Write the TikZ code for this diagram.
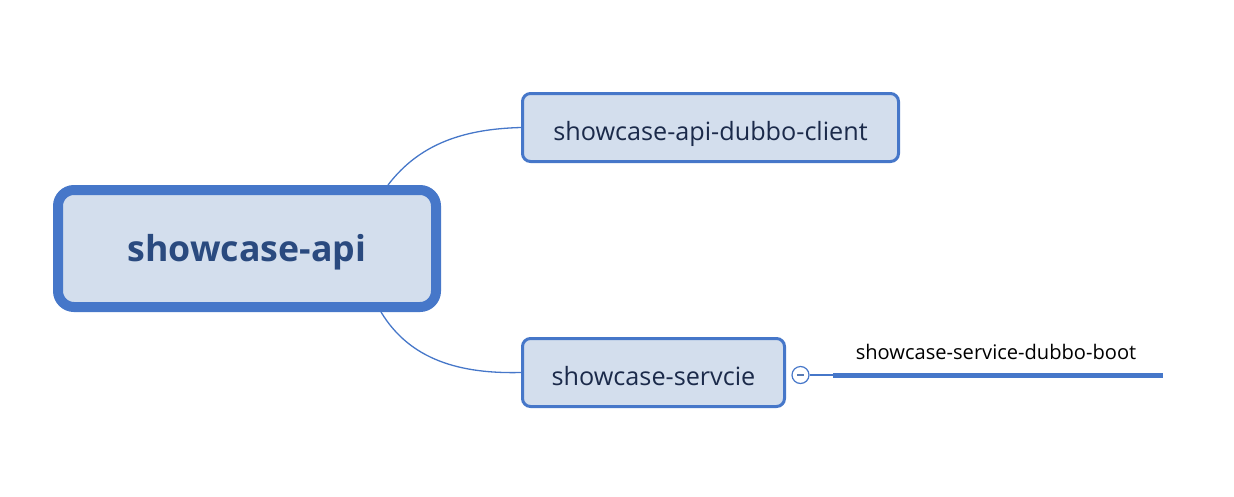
\documentclass[tikz,border=0pt]{standalone}
\usepackage{fontspec}
\setmainfont{Open Sans}
\definecolor{edge}{HTML}{4677C9}
\definecolor{boxfill}{HTML}{D3DEED}
\definecolor{maintext}{HTML}{2A4A7F}
\definecolor{childtext}{HTML}{1B2A4A}
\tikzset{
  mainbox/.style={draw=edge, fill=boxfill, line width=10pt, rounded corners=16pt, inner sep=0pt,
    minimum width=378pt, minimum height=117pt, text=maintext, text height=30pt, text depth=3.6pt,
    font=\fontsize{35.7}{42}\selectfont\bfseries},
  childbox/.style={draw=edge, fill=boxfill, line width=3pt, rounded corners=8pt, inner sep=0pt,
    minimum height=68pt, text=childtext, text height=27pt, text depth=2pt,
    font=\fontsize{25.2}{30}\selectfont},
  conn/.style={draw=edge, line width=1.3pt},
}
\begin{document}
\begin{tikzpicture}[x=1pt,y=-1pt]
\useasboundingbox (0,0) rectangle (1234,496);
\node[mainbox] (main) at (247,248.5) {showcase-api};
\node[childbox, minimum width=376pt] (c1) at (710.5,127.5) {showcase-api-dubbo-client};
\node[childbox, minimum width=262pt] (c2) at (653.5,372.5) {showcase-servcie};
\coordinate (m1) at (388,185);
\coordinate (m2) at (381,312);
\draw[conn] (m1) .. controls (420,143) and (465,129) .. (c1.west);
\draw[conn] (m2) .. controls (410,360) and (460,374) .. (c2.west);
\node[draw=edge, fill=white, circle, line width=1.2pt, minimum size=17pt, inner sep=0pt] (col) at (800.5,375) {};
\draw[draw=edge!70!gray, line width=1.2pt] (797,375) -- (804,375);
\coordinate (l1) at (833,375);
\coordinate (l2) at (1163,375);
\draw[conn] (col.east) -- (l1);
\draw[draw=edge, line width=5pt] (l1) -- (l2);
\node[font=\fontsize{20.1}{24}\selectfont, text=black, inner sep=0pt] (lab) at (996,352) {showcase-service-dubbo-boot};
\end{tikzpicture}
\end{document}
